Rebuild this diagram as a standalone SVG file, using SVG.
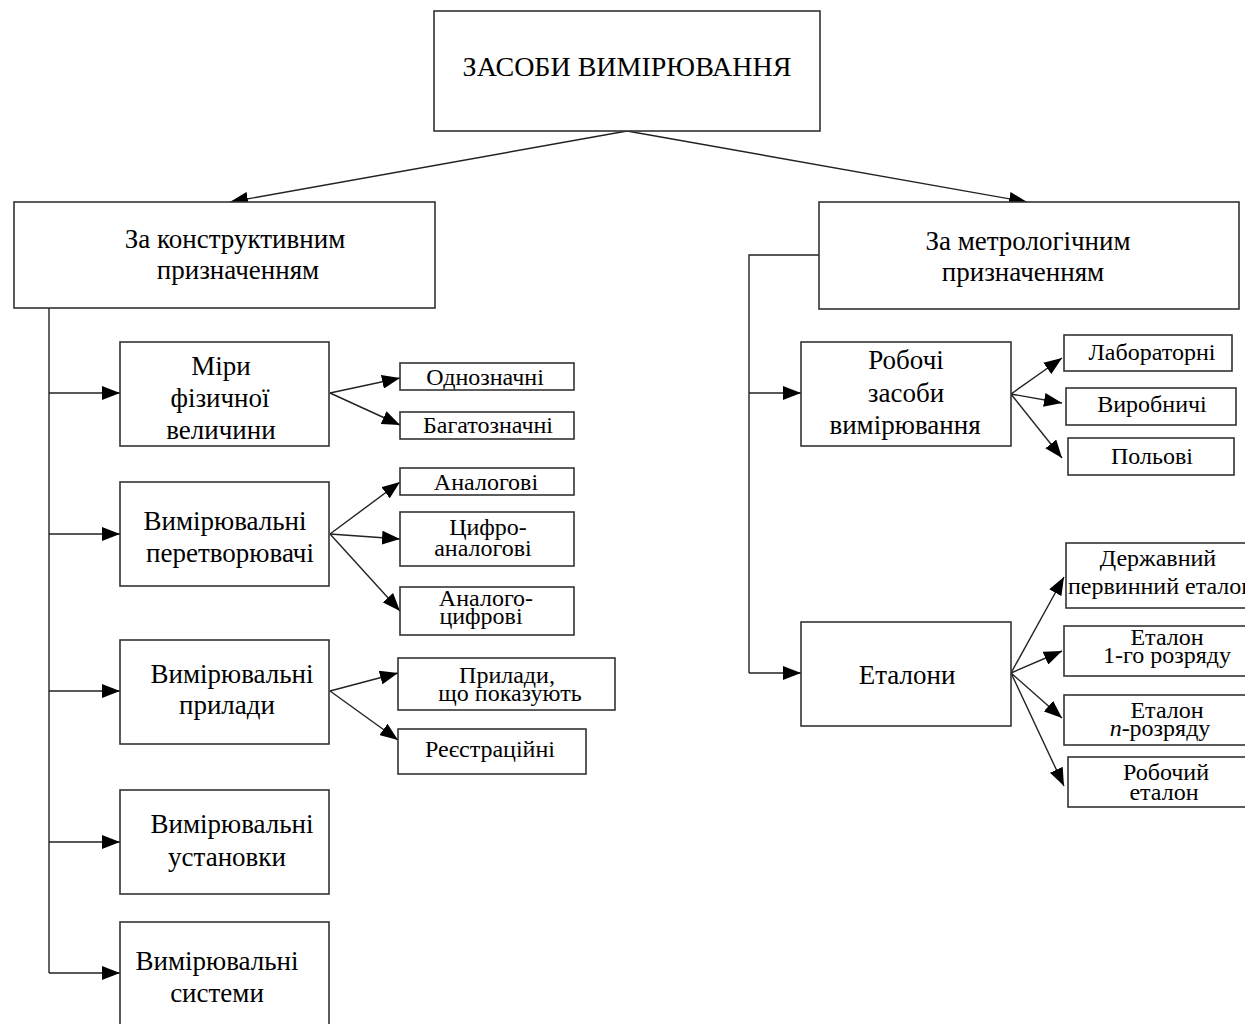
<svg xmlns="http://www.w3.org/2000/svg" width="1245" height="1024" viewBox="0 0 1245 1024">
<style>
.box{fill:#fff;stroke:#333;stroke-width:1.6}
.t{font-family:"Liberation Serif","Times New Roman",serif;font-size:27px;fill:#000;text-anchor:middle}
.s{font-family:"Liberation Serif","Times New Roman",serif;font-size:24px;fill:#000;text-anchor:middle}
.c{fill:none;stroke:#222;stroke-width:1.4}
</style>
<defs>
<marker id="a" markerUnits="userSpaceOnUse" markerWidth="20" markerHeight="14" refX="18" refY="7" orient="auto">
<path d="M0,0 L18,7 L0,14 z" fill="#000"/>
</marker>
</defs>
<rect width="1245" height="1024" fill="#fff"/>
<g id="connectors">
<line class="c" x1="627" y1="131" x2="230" y2="202" marker-end="url(#a)"/>
<line class="c" x1="627" y1="131" x2="1027" y2="202" marker-end="url(#a)"/>
<polyline class="c" points="49,308 49,973"/>
<line class="c" x1="49" y1="393" x2="120" y2="393" marker-end="url(#a)"/>
<line class="c" x1="49" y1="534" x2="120" y2="534" marker-end="url(#a)"/>
<line class="c" x1="49" y1="691" x2="120" y2="691" marker-end="url(#a)"/>
<line class="c" x1="49" y1="842" x2="120" y2="842" marker-end="url(#a)"/>
<line class="c" x1="49" y1="973" x2="120" y2="973" marker-end="url(#a)"/>
<line class="c" x1="330" y1="393" x2="400" y2="378" marker-end="url(#a)"/>
<line class="c" x1="330" y1="393" x2="400" y2="425" marker-end="url(#a)"/>
<line class="c" x1="330" y1="534" x2="400" y2="482" marker-end="url(#a)"/>
<line class="c" x1="330" y1="534" x2="400" y2="539" marker-end="url(#a)"/>
<line class="c" x1="330" y1="534" x2="400" y2="611" marker-end="url(#a)"/>
<line class="c" x1="330" y1="691" x2="398" y2="673" marker-end="url(#a)"/>
<line class="c" x1="330" y1="691" x2="398" y2="740" marker-end="url(#a)"/>
<polyline class="c" points="819,255 749,255 749,673"/>
<line class="c" x1="749" y1="393" x2="801" y2="393" marker-end="url(#a)"/>
<line class="c" x1="749" y1="673" x2="801" y2="673" marker-end="url(#a)"/>
<line class="c" x1="1011" y1="394" x2="1062" y2="358" marker-end="url(#a)"/>
<line class="c" x1="1011" y1="394" x2="1062" y2="403" marker-end="url(#a)"/>
<line class="c" x1="1011" y1="394" x2="1062" y2="458" marker-end="url(#a)"/>
<line class="c" x1="1011" y1="673" x2="1064" y2="577" marker-end="url(#a)"/>
<line class="c" x1="1011" y1="673" x2="1062" y2="651" marker-end="url(#a)"/>
<line class="c" x1="1011" y1="673" x2="1062" y2="718" marker-end="url(#a)"/>
<line class="c" x1="1011" y1="673" x2="1064" y2="786" marker-end="url(#a)"/>
</g>
<g id="root"><rect class="box" x="434" y="11" width="386" height="120"/><text class="t" x="627" y="76" style="font-size:28px">ЗАСОБИ ВИМІРЮВАННЯ</text></g>
<g id="constr"><rect class="box" x="14" y="202" width="421" height="106"/><text class="t" x="235" y="248">За конструктивним</text><text class="t" x="238" y="279">призначенням</text></g>
<g id="metro"><rect class="box" x="819" y="202" width="420" height="107"/><text class="t" x="1028" y="250">За метрологічним</text><text class="t" x="1023" y="281">призначенням</text></g>
<g id="miry"><rect class="box" x="120" y="342" width="209" height="104"/><text class="t" x="221" y="375">Міри</text><text class="t" x="220" y="407">фізичної</text><text class="t" x="221" y="439">величини</text></g>
<g id="peretv"><rect class="box" x="120" y="482" width="209" height="104"/><text class="t" x="225" y="530">Вимірювальні</text><text class="t" x="230" y="562">перетворювачі</text></g>
<g id="prylady"><rect class="box" x="120" y="640" width="209" height="104"/><text class="t" x="232" y="683">Вимірювальні</text><text class="t" x="227" y="714">прилади</text></g>
<g id="ustanovky"><rect class="box" x="120" y="790" width="209" height="104"/><text class="t" x="232" y="833">Вимірювальні</text><text class="t" x="227" y="866">установки</text></g>
<g id="systemy"><rect class="box" x="120" y="922" width="209" height="110"/><text class="t" x="217" y="970">Вимірювальні</text><text class="t" x="217" y="1002">системи</text></g>
<g id="odnozn"><rect class="box" x="400" y="363" width="174" height="27"/><text class="s" x="485" y="385">Однозначні</text></g>
<g id="bagatozn"><rect class="box" x="400" y="412" width="174" height="27"/><text class="s" x="488" y="433">Багатозначні</text></g>
<g id="analog"><rect class="box" x="400" y="468" width="174" height="27"/><text class="s" x="486" y="490">Аналогові</text></g>
<g id="cyfroan"><rect class="box" x="400" y="512" width="174" height="54"/><text class="s" x="488" y="535">Цифро-</text><text class="s" x="483" y="556">аналогові</text></g>
<g id="analcyfr"><rect class="box" x="400" y="587" width="174" height="48"/><text class="s" x="486" y="606">Аналого-</text><text class="s" x="481" y="624">цифрові</text></g>
<g id="pokaz"><rect class="box" x="398" y="658" width="217" height="52"/><text class="s" x="507" y="683">Прилади,</text><text class="s" x="510" y="701">що показують</text></g>
<g id="reestr"><rect class="box" x="398" y="729" width="188" height="45"/><text class="s" x="490" y="757">Реєстраційні</text></g>
<g id="robochi"><rect class="box" x="801" y="342" width="210" height="104"/><text class="t" x="906" y="369">Робочі</text><text class="t" x="906" y="402">засоби</text><text class="t" x="905" y="434">вимірювання</text></g>
<g id="etalony"><rect class="box" x="801" y="622" width="210" height="104"/><text class="t" x="907" y="684">Еталони</text></g>
<g id="labor"><rect class="box" x="1064" y="335" width="168" height="36"/><text class="s" x="1152" y="360">Лабораторні</text></g>
<g id="vyrob"><rect class="box" x="1066" y="388" width="170" height="37"/><text class="s" x="1152" y="412">Виробничі</text></g>
<g id="polovi"><rect class="box" x="1068" y="438" width="166" height="37"/><text class="s" x="1152" y="464">Польові</text></g>
<g id="derzh"><rect class="box" x="1066" y="543" width="190" height="65"/><text class="s" x="1158" y="566">Державний</text><text class="s" x="1068" y="594" style="text-anchor:start">первинний еталон</text></g>
<g id="et1"><rect class="box" x="1064" y="626" width="190" height="50"/><text class="s" x="1167" y="645">Еталон</text><text class="s" x="1167" y="663">1-го розряду</text></g>
<g id="etn"><rect class="box" x="1064" y="695" width="190" height="50"/><text class="s" x="1167" y="718">Еталон</text><text class="s" x="1160" y="736"><tspan font-style="italic">n</tspan>-розряду</text></g>
<g id="robet"><rect class="box" x="1068" y="757" width="190" height="50"/><text class="s" x="1166" y="780">Робочий</text><text class="s" x="1164" y="800">еталон</text></g>
</svg>
